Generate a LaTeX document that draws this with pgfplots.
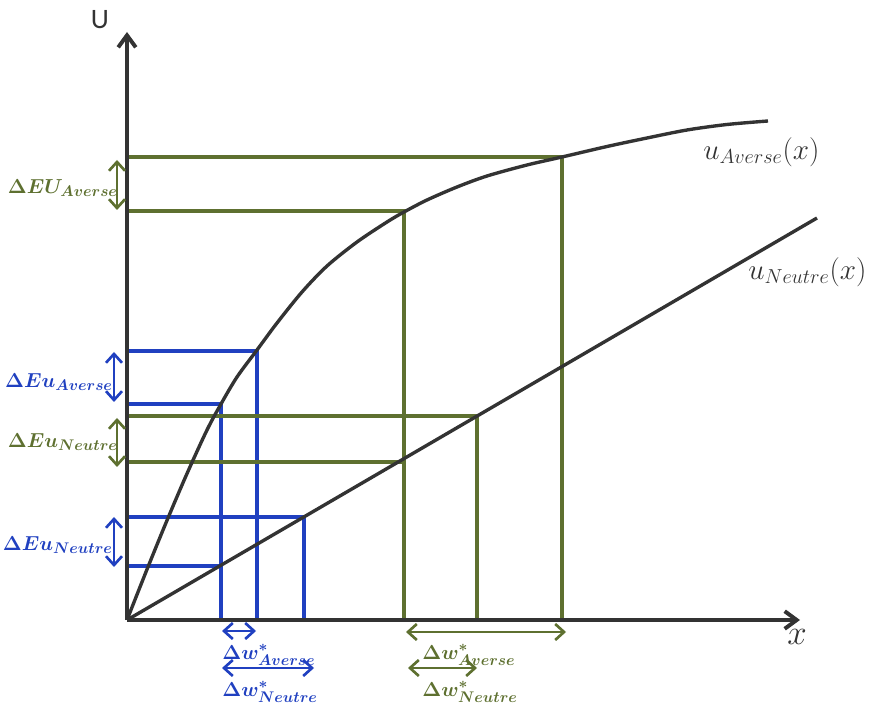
\documentclass[border=0pt]{standalone}
\usepackage{pgfplots}
\pgfplotsset{compat=1.18}
\usepackage{fontspec}
\usetikzlibrary{arrows.meta}
\newfontfamily\calib{Carlito}
\DeclareMathSizes{14}{14}{10.5}{8}
\DeclareMathSizes{21}{21}{15}{11}
\DeclareMathSizes{24}{24}{17}{12}
\definecolor{grn}{RGB}{94,112,48}
\definecolor{blu}{RGB}{32,64,192}
\definecolor{drk}{RGB}{51,51,51}
\tikzset{
  dbl/.style={line width=1.9pt, >={Straight Barb[length=2.2mm,width=4mm]}, <->},
  axarr/.style={line width=2.8pt, >={Straight Barb[length=3mm,width=4.4mm]}, ->}
}
\begin{document}
\begin{tikzpicture}
\begin{axis}[hide axis, scale only axis, x=0.25mm, y=0.25mm,
  xmin=-127, xmax=756, ymin=-88, ymax=620, clip=false]
\addplot[draw=none, mark=none] coordinates {(-127,-88) (756,620)};
% blue guides
\addplot[blu, line width=2.5pt, mark=none] coordinates {(0,269) (130,269) (130,0)};
\addplot[blu, line width=2.5pt, mark=none] coordinates {(0,216) (94,216) (94,0)};
\addplot[blu, line width=2.5pt, mark=none] coordinates {(0,103) (177,103) (177,0)};
\addplot[blu, line width=2.5pt, mark=none] coordinates {(0,54) (94,54)};
% green guides
\addplot[grn, line width=2.5pt, mark=none] coordinates {(0,463) (435,463) (435,0)};
\addplot[grn, line width=2.5pt, mark=none] coordinates {(0,409) (277,409) (277,0)};
\addplot[grn, line width=2.5pt, mark=none] coordinates {(0,204) (350,204) (350,0)};
\addplot[grn, line width=2.5pt, mark=none] coordinates {(0,158) (277,158)};
% curves
\addplot[drk, line width=2.4pt, mark=none, smooth] coordinates {
(0,0) (20,50.6) (40,99.6) (60,146.4) (80,190) (94,216) (110,243) (130,270)
(150,297) (175,328) (200,354) (230,378) (260,398) (277,408) (300,420)
(330,433) (360,444) (400,455) (435,463) (480,473.5) (520,482) (560,490)
(600,495.5) (641,499)};
\addplot[drk, line width=2.4pt, mark=none] coordinates {(0,0) (690,402)};
% axes
\draw[drk, axarr] (axis cs:0,0) -- (axis cs:673,0);
\draw[drk, axarr] (axis cs:0,0) -- (axis cs:0,588);
% vertical arrows
\draw[grn, dbl] (axis cs:-10,460) -- (axis cs:-10,410);
\draw[blu, dbl] (axis cs:-13,268) -- (axis cs:-13,218);
\draw[grn, dbl] (axis cs:-10,202) -- (axis cs:-10,153);
\draw[blu, dbl] (axis cs:-13,103) -- (axis cs:-13,53);
% horizontal arrows
\draw[blu, dbl] (axis cs:95,-11) -- (axis cs:129,-11);
\draw[blu, dbl] (axis cs:95,-48) -- (axis cs:187,-48);
\draw[grn, dbl] (axis cs:279,-12) -- (axis cs:439,-12);
\draw[grn, dbl] (axis cs:281,-48) -- (axis cs:350,-48);
% label anchors
\coordinate (bbA) at (axis cs:-127,-88);
\coordinate (bbB) at (axis cs:756,620);
\coordinate (lU) at (axis cs:-27,600);
\coordinate (lx) at (axis cs:670,-17);
\coordinate (lua) at (axis cs:576,468);
\coordinate (lun) at (axis cs:621,348);
\coordinate (l1) at (axis cs:-9,432);
\coordinate (l2) at (axis cs:-14,238);
\coordinate (l3) at (axis cs:-9,178);
\coordinate (l4) at (axis cs:-14,75);
\coordinate (b1) at (axis cs:95,-35);
\coordinate (b2) at (axis cs:95,-72);
\coordinate (b3) at (axis cs:295,-35);
\coordinate (b4) at (axis cs:295,-72);
\end{axis}
\node[text=drk, font=\calib\fontsize{20}{22}\selectfont] at (lU) {U};
\node[text=drk, font=\fontsize{24}{26}\selectfont] at (lx) {$x$};
\node[text=drk, anchor=west, inner sep=0pt, font=\fontsize{21}{23}\selectfont] at (lua) {$u_{Averse}(x)$};
\node[text=drk, anchor=west, inner sep=0pt, font=\fontsize{21}{23}\selectfont] at (lun) {$u_{Neutre}(x)$};
\tikzset{lab/.style={inner sep=0pt, font=\fontsize{14}{16}\selectfont\boldmath}}
\node[text=grn, anchor=east, lab] at (l1) {$\Delta EU_{Averse}$};
\node[text=blu, anchor=east, lab] at (l2) {$\Delta Eu_{Averse}$};
\node[text=grn, anchor=east, lab] at (l3) {$\Delta Eu_{Neutre}$};
\node[text=blu, anchor=east, lab] at (l4) {$\Delta Eu_{Neutre}$};
\node[text=blu, anchor=west, lab] at (b1) {$\Delta w^{*}_{Averse}$};
\node[text=blu, anchor=west, lab] at (b2) {$\Delta w^{*}_{Neutre}$};
\node[text=grn, anchor=west, lab] at (b3) {$\Delta w^{*}_{Averse}$};
\node[text=grn, anchor=west, lab] at (b4) {$\Delta w^{*}_{Neutre}$};
\pgfresetboundingbox
\path[use as bounding box] (bbA) rectangle (bbB);
\end{tikzpicture}
\end{document}
